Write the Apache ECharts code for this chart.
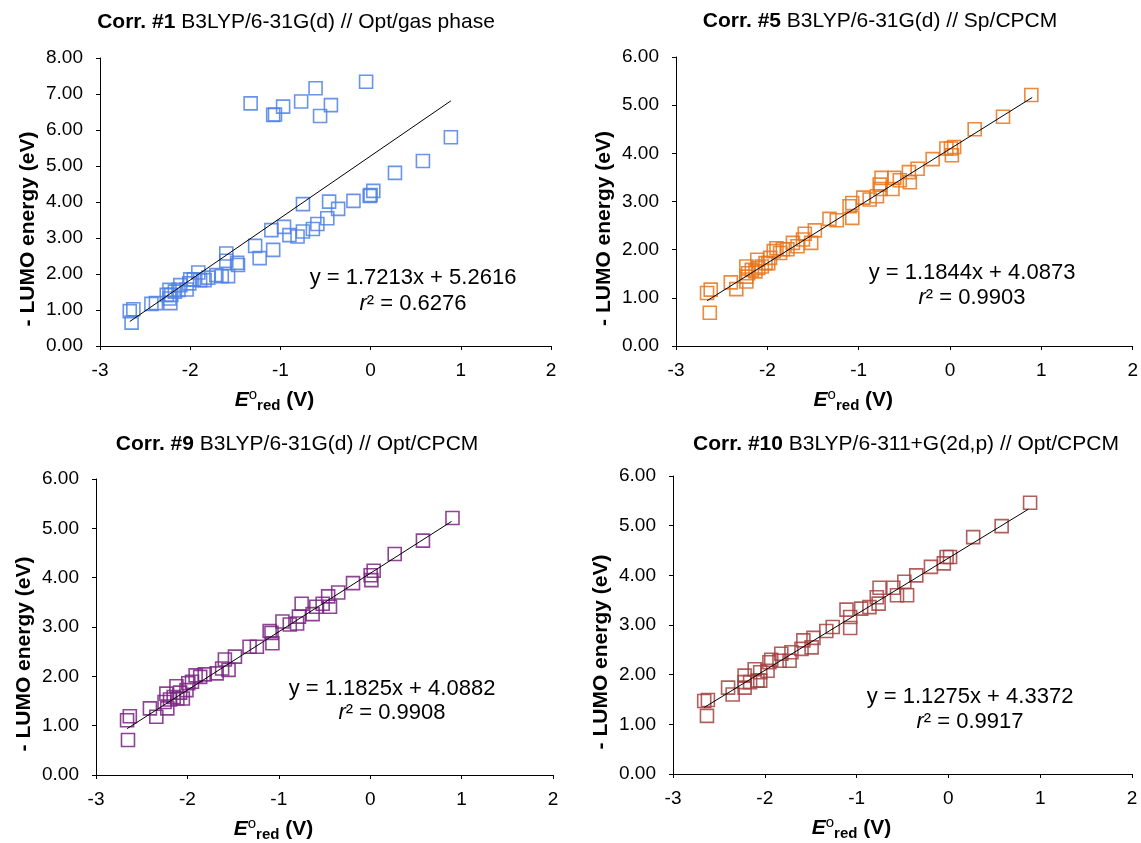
<!DOCTYPE html>
<html>
<head>
<meta charset="utf-8">
<script src="https://cdn.jsdelivr.net/npm/echarts@6/dist/echarts.min.js"></script>
<style>html,body{margin:0;padding:0;background:#fff}#c{width:1141px;height:843px}</style>
</head>
<body>
<div id="c"></div>
<script>
// ---- Data ----
const xTicks = [-3, -2, -1, 0, 1, 2];
const titles = [
  ['Corr. #1', ' B3LYP/6-31G(d) // Opt/gas phase'],
  ['Corr. #5', ' B3LYP/6-31G(d) // Sp/CPCM'],
  ['Corr. #9', ' B3LYP/6-31G(d) // Opt/CPCM'],
  ['Corr. #10', ' B3LYP/6-311+G(2d,p) // Opt/CPCM']
];
const equations = ['y = 1.7213x + 5.2616', 'y = 1.1844x + 4.0873', 'y = 1.1825x + 4.0882', 'y = 1.1275x + 4.3372'];
const r2Values = ['0.6276', '0.9903', '0.9908', '0.9917'];
const yMaxes = [8, 6, 6, 6];

const corr1X = [-1.33,-1.08,-1.06,-0.97,-0.77,-0.61,-0.44,-0.56,-0.05,
  0.89,0.58,0.27,0.03,0.00,-0.01,-0.19,-0.36,-0.46,-0.48,-0.59,-0.64,-0.75,-0.75,-0.81,-0.90,-0.96,-1.10,-1.08,-1.28,-1.23,-1.48,-1.47,-1.60,-1.60,-1.58,-1.65,-1.71,-1.80,-1.84,-1.89,-1.91,-1.96,-2.00,-2.01,-2.04,-2.11,-2.13,-2.17,-2.21,-2.23,-2.23,-2.26,-2.22,-2.38,-2.43,-2.67,-2.63,-2.65];
const corr1Y = [6.74,6.42,6.43,6.65,6.79,7.16,6.69,6.39,7.34,
  5.80,5.14,4.81,4.31,4.19,4.17,4.03,3.81,4.01,3.55,3.39,3.25,3.94,3.18,3.04,3.08,3.31,3.22,2.67,2.78,2.44,2.31,2.25,2.57,2.37,1.94,1.94,1.97,1.90,1.83,1.83,2.04,1.85,1.85,1.74,1.57,1.69,1.56,1.51,1.42,1.56,1.32,1.42,1.19,1.19,1.17,0.97,1.02,0.65];
const corr1TrendX = [-2.67, 0.89];
const corr1TrendY = [0.68, 6.81];

const corr5X = [0.89,0.58,0.27,0.045,0.01,-0.04,0.02,-0.19,-0.355,-0.45,-0.44,-0.55,-0.61,-0.63,-0.75,-0.76,-0.77,-0.80,-0.88,-0.95,-1.07,-1.10,-1.07,-1.24,-1.32,-1.48,-1.59,-1.61,-1.52,-1.67,-1.72,-1.78,-1.83,-1.86,-1.90,-1.93,-1.97,-1.99,-2.02,-2.06,-2.10,-2.11,-2.13,-2.17,-2.21,-2.23,-2.23,-2.23,-2.34,-2.40,-2.62,-2.66,-2.63];
const corr5Y = [5.21,4.76,4.50,4.13,4.10,4.10,3.96,3.88,3.68,3.61,3.40,3.44,3.49,3.26,3.49,3.26,3.35,3.11,3.04,3.08,2.97,2.90,2.66,2.61,2.64,2.40,2.33,2.21,2.14,2.07,2.14,2.01,2.01,1.93,2.03,1.97,1.83,1.72,1.72,1.65,1.62,1.79,1.55,1.58,1.51,1.65,1.44,1.34,1.18,1.32,1.17,1.10,0.69];
const corr5TrendX = [-2.66, 0.90];
const corr5TrendY = [0.94, 5.16];

const corr9X = [0.90,0.577,0.268,0.038,0.005,0.013,-0.188,-0.35,-0.46,-0.44,-0.52,-0.59,-0.63,-0.75,-0.78,-0.80,-0.88,-0.96,-1.07,-1.08,-1.10,-1.24,-1.32,-1.48,-1.59,-1.62,-1.55,-1.68,-1.81,-1.86,-1.91,-1.95,-1.99,-2.01,-2.08,-2.12,-2.11,-2.15,-2.19,-2.23,-2.25,-2.22,-2.34,-2.41,-2.63,-2.66,-2.65,-2.05];
const corr9Y = [5.21,4.75,4.48,4.14,4.05,3.95,3.89,3.70,3.62,3.41,3.47,3.41,3.26,3.47,3.21,3.07,3.05,3.11,2.67,2.88,2.92,2.60,2.60,2.40,2.34,2.16,2.13,2.06,2.04,1.99,2.02,1.89,1.86,1.72,1.67,1.80,1.55,1.58,1.53,1.65,1.48,1.35,1.18,1.35,1.19,1.11,0.71,1.55];
const corr9TrendX = [-2.66, 0.89];
const corr9TrendY = [0.94, 5.14];

const corr10X = [0.89,0.58,0.27,0.018,-0.02,-0.05,-0.19,-0.35,-0.48,-0.45,-0.56,-0.60,-0.75,-0.76,-0.78,-0.86,-0.95,-1.11,-1.07,-1.07,-1.26,-1.33,-1.47,-1.58,-1.60,-1.49,-1.71,-1.82,-1.84,-1.93,-1.95,-1.97,-2.05,-2.11,-2.08,-2.16,-2.22,-2.22,-2.22,-2.40,-2.35,-2.62,-2.66,-2.63,-2.05,-1.73];
const corr10Y = [5.46,4.99,4.77,4.37,4.37,4.24,4.17,4.00,3.87,3.60,3.60,3.75,3.75,3.43,3.56,3.36,3.33,3.31,3.16,2.94,2.96,2.88,2.74,2.69,2.52,2.55,2.45,2.42,2.28,2.30,2.25,2.08,2.05,2.11,1.88,1.85,1.98,1.85,1.74,1.74,1.60,1.49,1.47,1.17,1.88,2.28];
const corr10TrendX = [-2.66, 0.87];
const corr10TrendY = [1.34, 5.33];

// ---- Styles / layout ----
const FONT = '"Liberation Sans", Arial, sans-serif';
const colors = ['#4F81E6', '#E8741A', '#7A2382', '#A3423F'];
const grids = [
  {left: 100, top: 58, width: 451, height: 288},
  {left: 676, top: 57, width: 458, height: 289},
  {left: 96, top: 479, width: 457, height: 296},
  {left: 673, top: 476, width: 459, height: 298}
];
const titlePos = [[296, 12], [880, 11], [297, 434], [906, 434]];
const eqPos = [[413, 278, 304], [972, 273, 298], [392, 689, 713], [970, 697, 722]];

const panels = [
  [corr1X, corr1Y, corr1TrendX, corr1TrendY],
  [corr5X, corr5Y, corr5TrendX, corr5TrendY],
  [corr9X, corr9Y, corr9TrendX, corr9TrendY],
  [corr10X, corr10Y, corr10TrendX, corr10TrendY]
];

const zip = (a, b) => a.map((v, i) => [v, b[i]]);

const option = {
  backgroundColor: '#fff',
  animation: false,
  title: titles.map((t, i) => ({
    text: '{b|' + t[0] + '}' + t[1],
    left: titlePos[i][0], top: titlePos[i][1], textAlign: 'center', padding: 0,
    textStyle: {fontSize: 21, fontWeight: 'normal', color: '#000', fontFamily: FONT,
      rich: {b: {fontSize: 21, fontWeight: 'bold', color: '#000', fontFamily: FONT}}}
  })),
  grid: grids,
  xAxis: grids.map((g, i) => ({
    gridIndex: i, type: 'value', min: xTicks[0], max: xTicks[xTicks.length - 1], interval: 1,
    axisLine: {onZero: false, lineStyle: {color: '#000', width: 1}},
    axisTick: {show: true, inside: false, length: 4, lineStyle: {color: '#000'}},
    splitLine: {show: false},
    axisLabel: {color: '#000', fontSize: 19, margin: 15, fontFamily: FONT},
    name: '{e|E}{sup|o}{sub|red}{n| (V)}',
    nameLocation: 'middle', nameGap: 41,
    nameTextStyle: {
      padding: [0, 102, 0, 0],
      rich: {
        e: {fontSize: 21, fontWeight: 'bold', fontStyle: 'italic', color: '#000', fontFamily: FONT},
        sup: {fontSize: 15, color: '#000', fontFamily: FONT, padding: [0, 0, 12, 0]},
        sub: {fontSize: 15, fontWeight: 'bold', color: '#000', fontFamily: FONT, padding: [10, 0, 0, 0]},
        n: {fontSize: 21, fontWeight: 'bold', color: '#000', fontFamily: FONT}
      }
    }
  })),
  yAxis: grids.map((g, i) => ({
    gridIndex: i, type: 'value', min: 0, max: yMaxes[i], interval: 1,
    axisLine: {show: true, onZero: false, lineStyle: {color: '#000', width: 1}},
    axisTick: {show: true, inside: false, length: 4, lineStyle: {color: '#000'}},
    splitLine: {show: false},
    axisLabel: {color: '#000', fontSize: 19, margin: 17, fontFamily: FONT, formatter: v => v.toFixed(2)},
    name: '- LUMO energy (eV)', nameLocation: 'middle', nameRotate: 90, nameGap: 61,
    nameTextStyle: {fontSize: 21, fontWeight: 'bold', color: '#000', fontFamily: FONT, padding: [0, 54, 0, 0]}
  })),
  series: panels.flatMap((p, i) => [
    {
      type: 'scatter', xAxisIndex: i, yAxisIndex: i, data: zip(p[0], p[1]),
      symbol: 'rect', symbolSize: 13,
      itemStyle: {color: 'rgba(0,0,0,0)', borderColor: colors[i], borderWidth: 1.6, opacity: 0.85}
    },
    {
      type: 'line', xAxisIndex: i, yAxisIndex: i, data: zip(p[2], p[3]),
      showSymbol: false, symbol: 'none', lineStyle: {color: '#000', width: 1}, z: 3
    }
  ]),
  graphic: equations.flatMap((eq, i) => [
    {type: 'text', x: eqPos[i][0], y: eqPos[i][1],
      style: {text: eq, fill: '#000', fontSize: 22, fontFamily: FONT, align: 'center', verticalAlign: 'middle'}},
    {type: 'text', x: eqPos[i][0], y: eqPos[i][2],
      style: {text: '{i|r}² = ' + r2Values[i], fill: '#000', fontSize: 22, fontFamily: FONT, align: 'center', verticalAlign: 'middle',
        rich: {i: {fontStyle: 'italic', fontSize: 22, fontFamily: FONT, fill: '#000'}}}}
  ])
};

const chart = echarts.init(document.getElementById('c'), null, {renderer: 'canvas'});
chart.setOption(option);
</script>
</body>
</html>
